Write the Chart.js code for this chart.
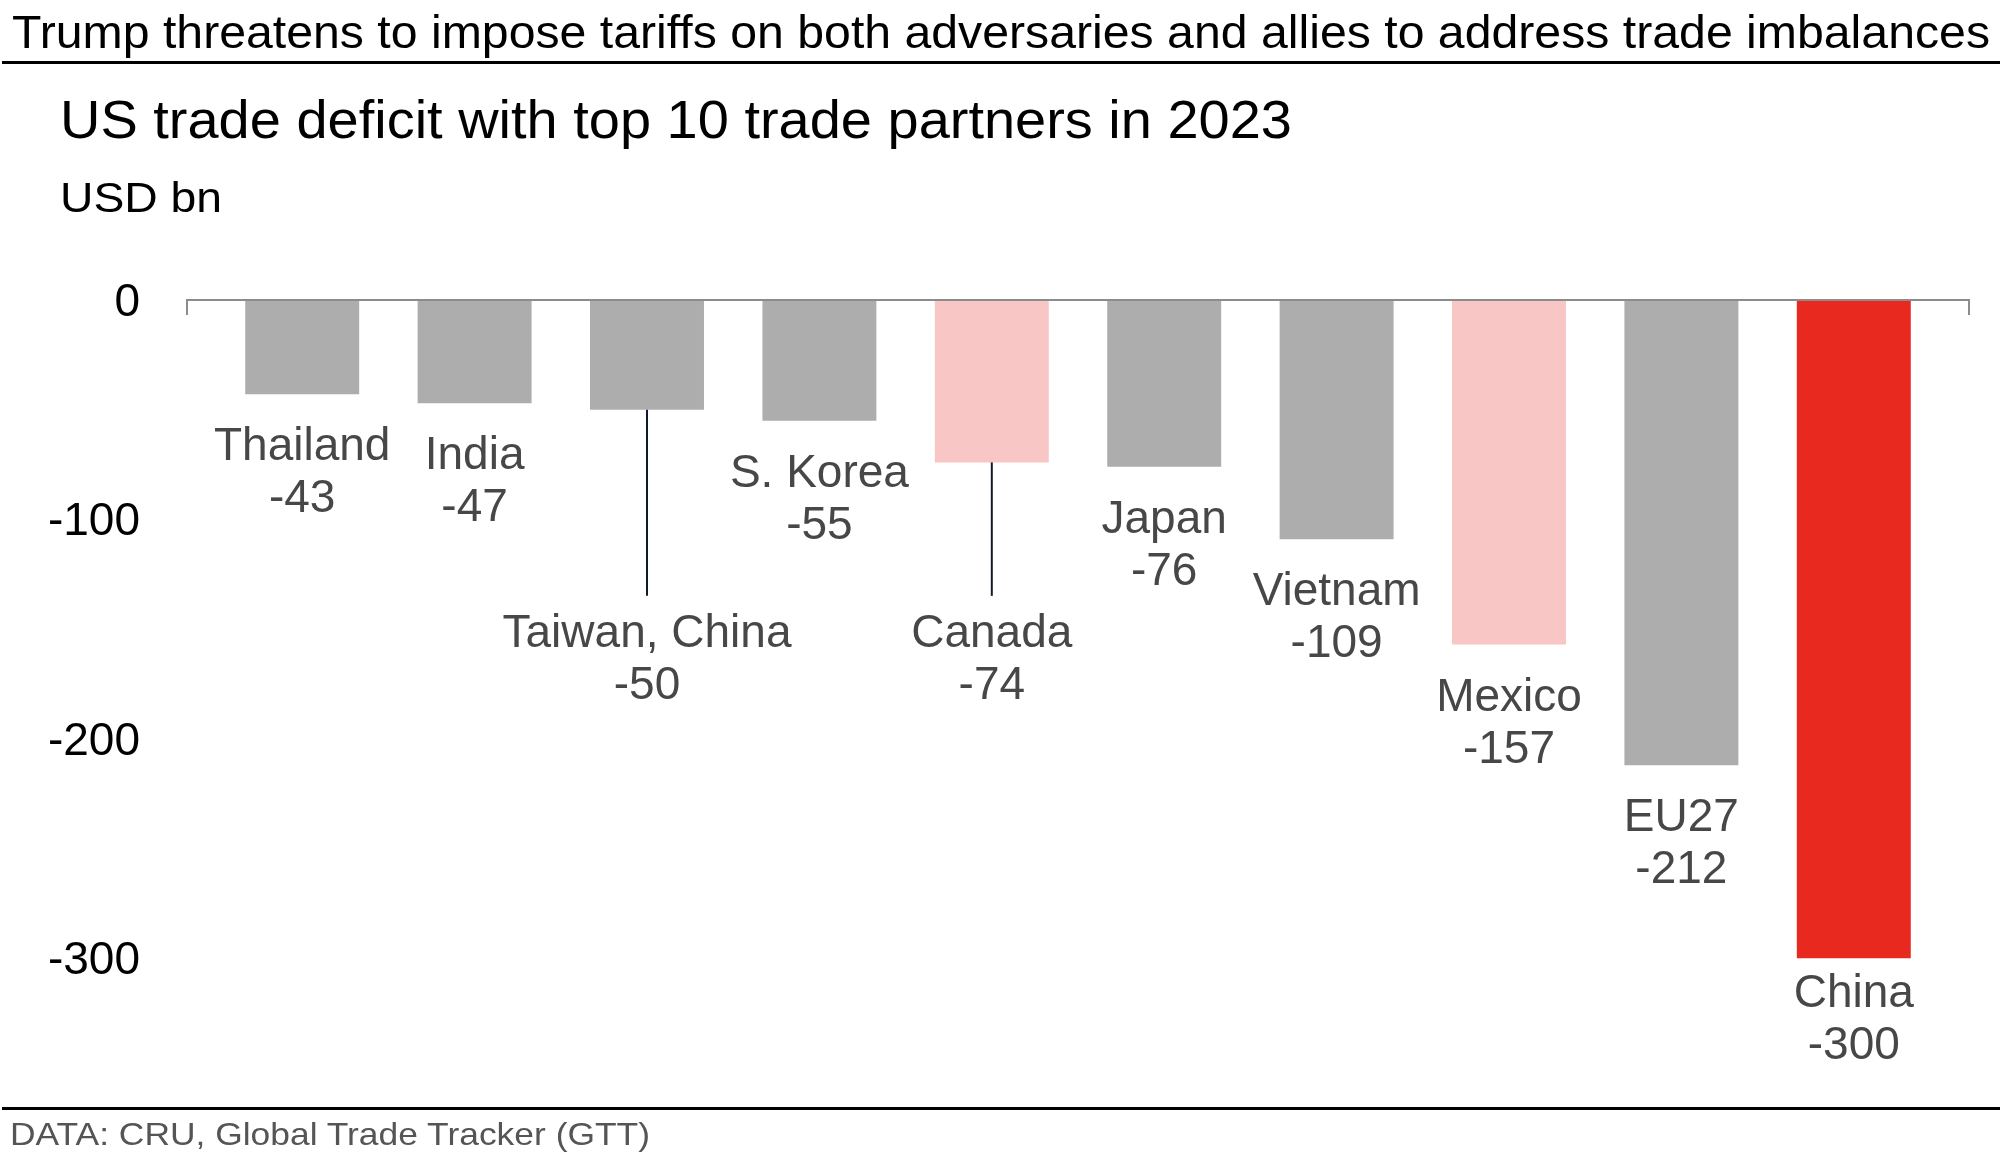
<!DOCTYPE html>
<html>
<head>
<meta charset="utf-8">
<title>US trade deficit with top 10 trade partners in 2023</title>
<script src="https://cdn.jsdelivr.net/npm/chart.js@4.4.1/dist/chart.umd.min.js"></script>
<style>
  html, body { margin: 0; padding: 0; background: #fff; }
  #wrap { position: relative; width: 2002px; height: 1154px; overflow: hidden; font-family: "Liberation Sans", Arial, sans-serif; }
  #chart { position: absolute; left: 0; top: 0; }
  .txt { position: absolute; white-space: nowrap; line-height: 1; transform-origin: 0 0; color: #000; }
  .rule { position: absolute; left: 2px; width: 1998px; background: #000; }
</style>
</head>
<body>
<div id="wrap">
  <canvas id="chart" width="2002" height="1154"></canvas>
  <div class="txt" data-w="1978" style="left:12px;top:9px;font-size:46px">Trump threatens to impose tariffs on both adversaries and allies to address trade imbalances</div>
  <div class="rule" style="top:61px;height:3px"></div>
  <div class="txt" data-w="1232" style="left:60px;top:93px;font-size:53px">US trade deficit with top 10 trade partners in 2023</div>
  <div class="txt" data-w="162" style="left:60px;top:176px;font-size:43px">USD bn</div>
  <div class="rule" style="top:1107px;height:3px"></div>
  <div class="txt" data-w="640" style="left:10px;top:1118px;font-size:32px;color:#555">DATA: CRU, Global Trade Tracker (GTT)</div>
</div>
<script>
// data
const partners = ['Thailand', 'India', 'Taiwan, China', 'S. Korea', 'Canada', 'Japan', 'Vietnam', 'Mexico', 'EU27', 'China'];
const deficit = [-43, -47, -50, -55, -74, -76, -109, -157, -212, -300];
const yTicks = [0, -100, -200, -300];

// styling
const GREY = '#adadad', PINK = '#f8c6c4', RED = '#e8291f';
const barColors = [GREY, GREY, GREY, GREY, PINK, GREY, GREY, PINK, GREY, RED];
const leaderLabels = ['Taiwan, China', 'Canada'];  // labels hung lower on a line
const leaderAnchor = -128;                         // axis value the hung labels sit at
const FONT = '"Liberation Sans", Arial, sans-serif';

Chart.defaults.font.family = FONT;

function fitTexts() {
  document.querySelectorAll('.txt[data-w]').forEach(function (el) {
    const w = el.getBoundingClientRect().width;
    el.style.transform = 'scaleX(' + (parseFloat(el.dataset.w) / w) + ')';
  });
}

const barLabels = {
  id: 'barLabels',
  afterDatasetsDraw(chart) {
    const ctx = chart.ctx, area = chart.chartArea, y = chart.scales.y;
    const zero = y.getPixelForValue(0);
    ctx.save();
    // zero line with end ticks
    ctx.strokeStyle = '#8c8c8c';
    ctx.lineWidth = 2;
    ctx.beginPath();
    ctx.moveTo(area.left - 29, zero + 15);
    ctx.lineTo(area.left - 29, zero);
    ctx.lineTo(area.right + 29, zero);
    ctx.lineTo(area.right + 29, zero + 15);
    ctx.stroke();

    ctx.font = '46px ' + FONT;
    ctx.textAlign = 'center';
    ctx.fillStyle = '#474747';
    chart.getDatasetMeta(0).data.forEach(function (bar, i) {
      let anchor = bar.y;
      if (leaderLabels.includes(partners[i])) {
        anchor = y.getPixelForValue(leaderAnchor);
        ctx.strokeStyle = '#111a2c';
        ctx.lineWidth = 2;
        ctx.beginPath();
        ctx.moveTo(bar.x, bar.y);
        ctx.lineTo(bar.x, anchor + 15);
        ctx.stroke();
      }
      // keep the label inside the plot area
      anchor = Math.min(anchor, area.bottom - 127);
      ctx.fillText(partners[i], bar.x, anchor + 66);
      ctx.fillText(String(deficit[i]), bar.x, anchor + 118);
    });
    ctx.restore();
  }
};

new Chart(document.getElementById('chart'), {
  type: 'bar',
  data: {
    labels: partners,
    datasets: [{
      data: deficit,
      backgroundColor: barColors,
      borderWidth: 0,
      categoryPercentage: 1,
      barPercentage: 0.661
    }]
  },
  options: {
    responsive: false,
    animation: false,
    layout: { padding: { top: 300, right: 62, bottom: 86, left: 0 } },
    plugins: {
      legend: { display: false },
      tooltip: { enabled: false },
      title: { display: false }
    },
    scales: {
      x: { display: false },
      y: {
        min: -350,
        max: 0,
        grid: { display: false, drawTicks: false },
        border: { display: false },
        afterBuildTicks: function (s) { s.ticks = yTicks.map(v => ({ value: v })); },
        afterFit: function (s) {
          s.width = 216;
          s.paddingTop = 0;
          s.paddingBottom = 0;
        },
        ticks: {
          padding: 76,
          labelOffset: 3,
          color: '#000',
          font: { size: 46 },
          callback: v => String(v)
        }
      }
    }
  },
  plugins: [barLabels]
});

if (document.fonts && document.fonts.ready) {
  document.fonts.ready.then(fitTexts);
} else {
  fitTexts();
}
</script>
</body>
</html>
